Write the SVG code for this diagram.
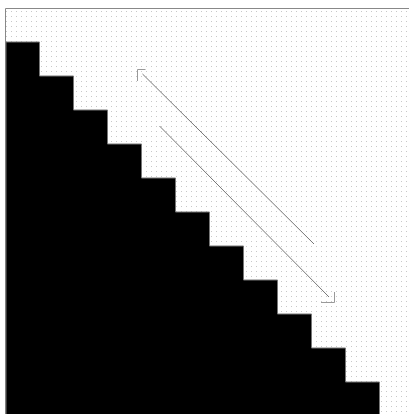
<svg xmlns="http://www.w3.org/2000/svg" width="409" height="414" viewBox="0 0 409 414">
<defs>
<pattern id="dots" x="1" y="1" width="5" height="5" patternUnits="userSpaceOnUse">
<rect x="0" y="0" width="1" height="1" fill="#c8c8c8"/>
</pattern>
<style>
.frame{fill:none;stroke:#888;stroke-width:1}
.conn{fill:none;stroke:#777;stroke-width:1}
.head{fill:none;stroke:#999;stroke-width:1}
</style>
</defs>
<rect x="6" y="9" width="403" height="405" fill="#fff"/>
<rect x="6" y="9" width="403" height="405" fill="url(#dots)"/>
<polyline class="frame" points="5.5,414 5.5,8.5 409,8.5"/>
<g id="staircase">
<polygon fill="#000" stroke="#777" stroke-width="1" points="6,42 39.5,42 39.5,76 73.5,76 73.5,110 107.5,110 107.5,144 141.5,144 141.5,178 175.5,178 175.5,212 209.5,212 209.5,246 243.5,246 243.5,280 277.5,280 277.5,314 311.5,314 311.5,348 345.5,348 345.5,382 379.5,382 379.5,415 6,415"/>
</g>
<g id="connectors">
<line class="conn" x1="142.5" y1="74" x2="314" y2="244"/>
<polyline class="head" points="145.5,69.5 137.5,69.5 137.5,81"/>
<line class="conn" x1="159.5" y1="126" x2="329" y2="297"/>
<polyline class="head" points="321,302.5 334.5,302.5 334.5,292"/>
</g>
</svg>
